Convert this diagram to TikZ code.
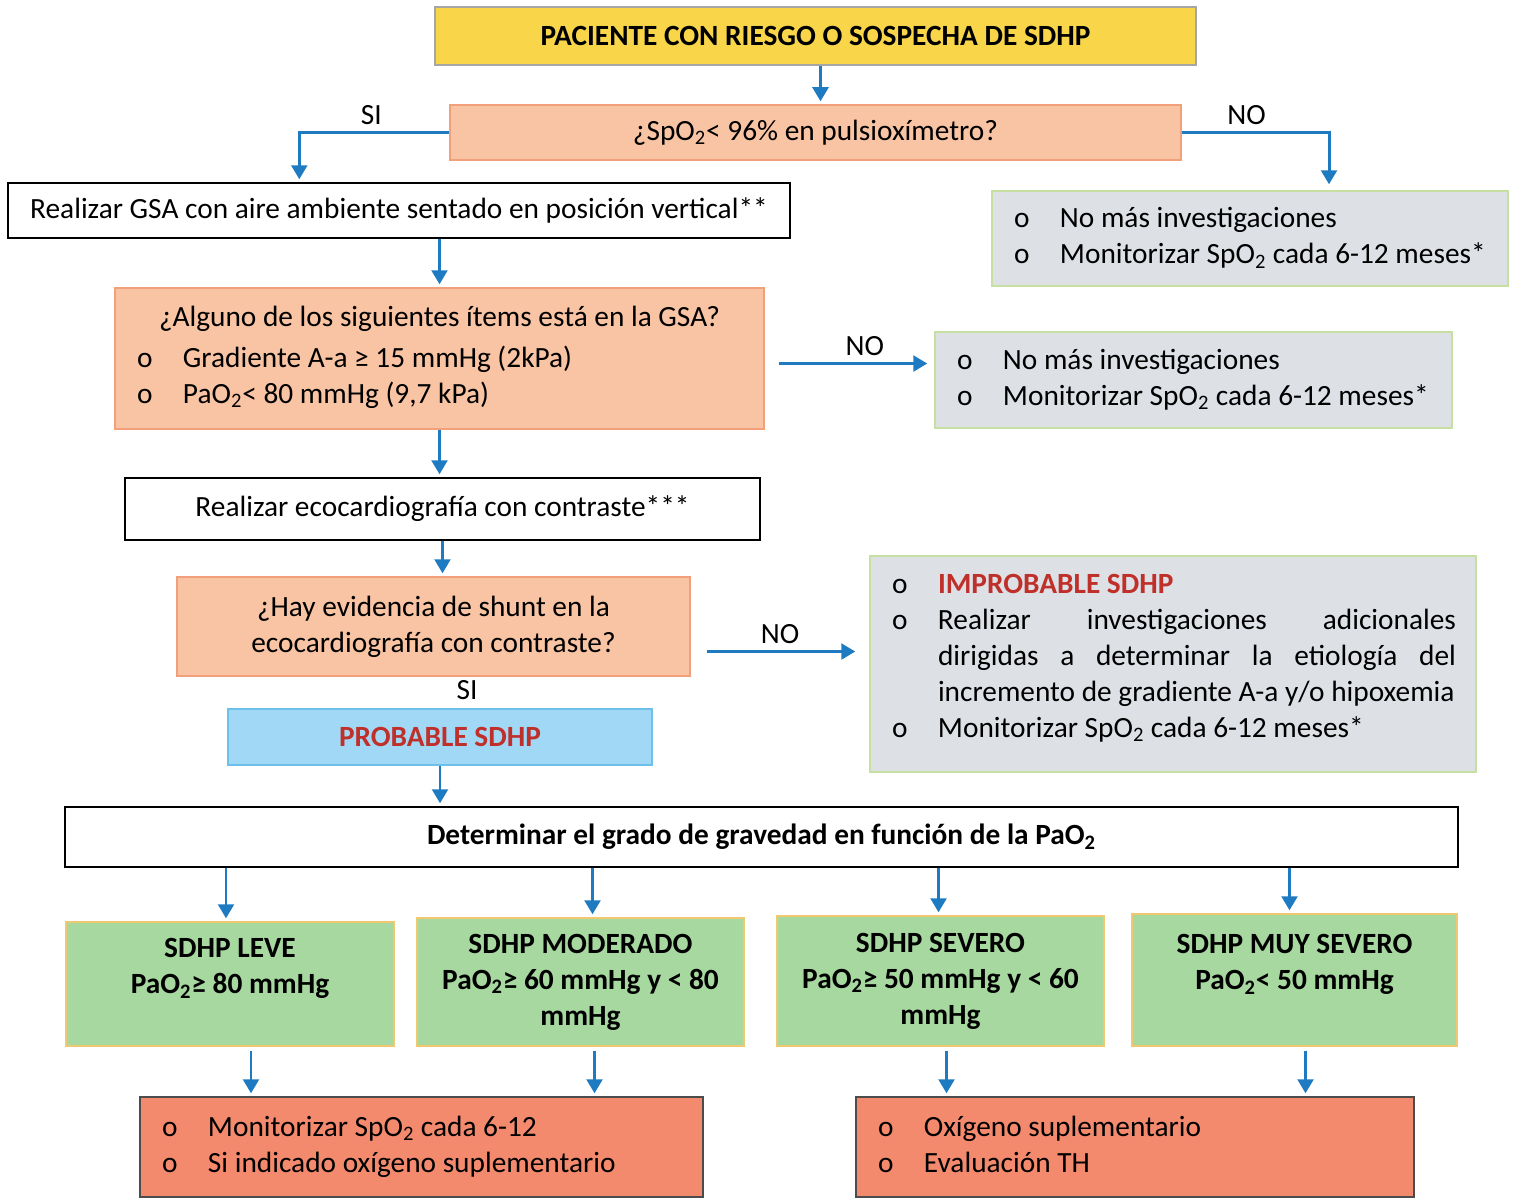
\documentclass[tikz,border=0pt]{standalone}
\usepackage{fontspec}
\setmainfont{Carlito}
\usepackage{xcolor}
\usetikzlibrary{arrows.meta}
\usetikzlibrary{calc}

\definecolor{azul}{HTML}{1F7BC1}
\definecolor{amarillo}{HTML}{F9D649}
\definecolor{salmon}{HTML}{F9C4A3}
\definecolor{salmonborde}{HTML}{F2A07C}
\definecolor{gris}{HTML}{DDE1E6}
\definecolor{grisborde}{HTML}{C8DFA2}
\definecolor{celeste}{HTML}{A0D8F5}
\definecolor{celesteborde}{HTML}{6CC0EA}
\definecolor{verde}{HTML}{A7D8A0}
\definecolor{verdeborde}{HTML}{F0C870}
\definecolor{rojo}{HTML}{F48A6D}
\definecolor{rojotexto}{HTML}{C0302A}

\newlength\pxl
\setlength\pxl{0.02cm}
\newcommand{\dos}{\textsubscript{2}}
\newcommand{\bul}{\strut\hspace*{22\pxl}\makebox[46\pxl][l]{o}}

\begin{document}
\begin{tikzpicture}[x=0.02cm,y=-0.02cm,font=\fontsize{16.7}{20.5}\selectfont]
			%\draw[help lines] (0,0) grid (1518,1198);
			\useasboundingbox (0,0) rectangle (1518,1198);
			
			\tikzset{
			caja/.style 	= {draw, line width=0.8pt, inner sep=0pt},
			tam/.style 2 args = {minimum width=#1\pxl, minimum height=#2\pxl},
			inicio/.style 	= {fill=amarillo, draw=black!35},
			pregunta/.style = {fill=salmon, draw=salmonborde},
			blanco/.style 	= {fill=white, draw=black},
			nada/.style 	= {fill=gris, draw=grisborde},
			probable/.style = {fill=celeste, draw=celesteborde},
			grave/.style 	= {fill=verde, draw=verdeborde, align=center, font=\fontsize{16.7}{20.5}\selectfont\bfseries},
			accion/.style 	= {fill=rojo, draw=black!70},
			flecha/.style 	= {draw=azul, line width=1.7pt, -{Triangle[width=9pt,length=8pt]}, shorten >=3\pxl}}
			
			\node[caja, inicio, tam={761}{58}] (pac) at (815.5,36) {\bfseries PACIENTE CON RIESGO O SOSPECHA DE SDHP};
			\node[caja, pregunta, tam={731}{55}] (spo) at (815.5,132.5) {¿SpO\dos< 96\% en pulsioxímetro?};
			\node[caja, blanco, tam={782}{55}] (gsa) at (399,210.5) {Realizar GSA con aire ambiente sentado en posición vertical**};
			\node[caja, nada, tam={516}{95}] (nada1) at (1250,238.5) {\parbox{516\pxl}{\bul No más investigaciones\par\bul Monitorizar SpO\dos{} cada 6-12 meses*}};
			
			\node[caja, pregunta, tam={649}{141}] (items) at (439.5,358.5) {\parbox{649\pxl}{\vspace*{3\pxl}\centering ¿Alguno de los siguientes ítems está en la GSA?\par\vspace{5\pxl}\raggedright\bul Gradiente A-a ≥ 15 mmHg (2kPa)\par\bul PaO\dos< 80 mmHg (9,7 kPa)}};
			\node[caja, nada, tam={517}{96}] (nada2) at (1193.5,380) {\parbox{517\pxl}{\bul No más investigaciones\par\bul Monitorizar SpO\dos{} cada 6-12 meses*}};
			
			\node[caja, blanco, tam={635}{62}] (eco) at (442.5,509) {Realizar ecocardiografía con contraste***};
			\node[caja, pregunta, tam={513}{99}, align=center] (shunt) at (433.5,626.5) {¿Hay evidencia de shunt en la\\ecocardiografía con contraste?};
			\node[caja, nada, tam={606}{216}] (improb) at (1173,664) {\parbox{606\pxl}{\rightskip=20\pxl \bul\textcolor{rojotexto}{\bfseries IMPROBABLE SDHP}\par
				\hangindent=68\pxl \hangafter=1 \bul Realizar investigaciones adicionales\linebreak dirigidas a determinar la etiología del\linebreak incremento de gradiente A-a y/o hipoxemia\par
				\bul Monitorizar SpO\dos{} cada 6-12 meses*\par\vspace{12\pxl}}};
			\node (si) at (467,690) {SI};
			\node[caja, probable, tam={424}{56}] (prob) at (440,737) {\textcolor{rojotexto}{\bfseries PROBABLE SDHP}};
			
			\node[caja, blanco, tam={1393}{60}] (grado) at (761.5,837) {\bfseries Determinar el grado de gravedad en función de la PaO\dos};
			
			\node[caja, grave, tam={328}{124}] (leve) at (230,984) {SDHP LEVE\\PaO\dos≥ 80 mmHg\\\mbox{}};
			\node[caja, grave, tam={327}{128}] (mod) at (580.5,982) {SDHP MODERADO\\PaO\dos≥ 60 mmHg y < 80\\mmHg};
			\node[caja, grave, tam={327}{130}] (sev) at (940.5,981) {SDHP SEVERO\\PaO\dos≥ 50 mmHg y < 60\\mmHg};
			\node[caja, grave, tam={325}{132}] (msev) at (1294.5,980) {SDHP MUY SEVERO\\PaO\dos< 50 mmHg\\\mbox{}};
			
			\node[caja, accion, tam={563}{100}] (mon) at (421.5,1147) {\parbox{563\pxl}{\bul Monitorizar SpO\dos{} cada 6-12\par\bul Si indicado oxígeno suplementario}};
			\node[caja, accion, tam={558}{100}] (oxi) at (1135,1147) {\parbox{558\pxl}{\bul Oxígeno suplementario\par\bul Evaluación TH}};
			
			\draw[flecha] ([xshift=5*0.02cm]pac.south) -- ([xshift=5*0.02cm]spo.north);
			\draw[flecha] (spo.west) -| ($(gsa.north west)+(292,0)$) node[pos=0.26, above] {SI};
			\draw[flecha, shorten >=6\pxl] (spo.east) -| ($(nada1.north)+(79,0)$) node[pos=0.22, above] {NO};
			\draw[flecha] (gsa.south -| items.north) -- (items.north);
			\draw[flecha, shorten <=14\pxl, shorten >=7\pxl] ([yshift=-0.1cm]items.east) -- ([yshift=-0.1cm]items.east -| nada2.west) node[pos=0.59, above] {NO};
			\draw[flecha] (items.south) -- (items.south |- eco.north);
			\draw[flecha] (eco.south) -- (eco.south |- shunt.north);
			\draw[flecha, shorten <=16\pxl, shorten >=14\pxl] ([yshift=-0.5cm]shunt.east) -- ([yshift=-0.5cm]shunt.east -| improb.west) node[midway, above] {NO};
			\draw[flecha] (prob.south) -- (prob.south |- grado.north);
			
			\foreach \g/\dx in {leve/-4, mod/12, sev/-2, msev/-5}
				\draw[flecha] ([xshift=\dx*0.02cm]grado.south -| \g.north) -- ([xshift=\dx*0.02cm]\g.north);
			\foreach \g/\r/\dx in {leve/mon/21, mod/mon/14, sev/oxi/6, msev/oxi/11}
				\draw[flecha, shorten <=4\pxl] ([xshift=\dx*0.02cm]\g.south) -- ([xshift=\dx*0.02cm]\g.south |- \r.north);
			
\end{tikzpicture}
\end{document}
